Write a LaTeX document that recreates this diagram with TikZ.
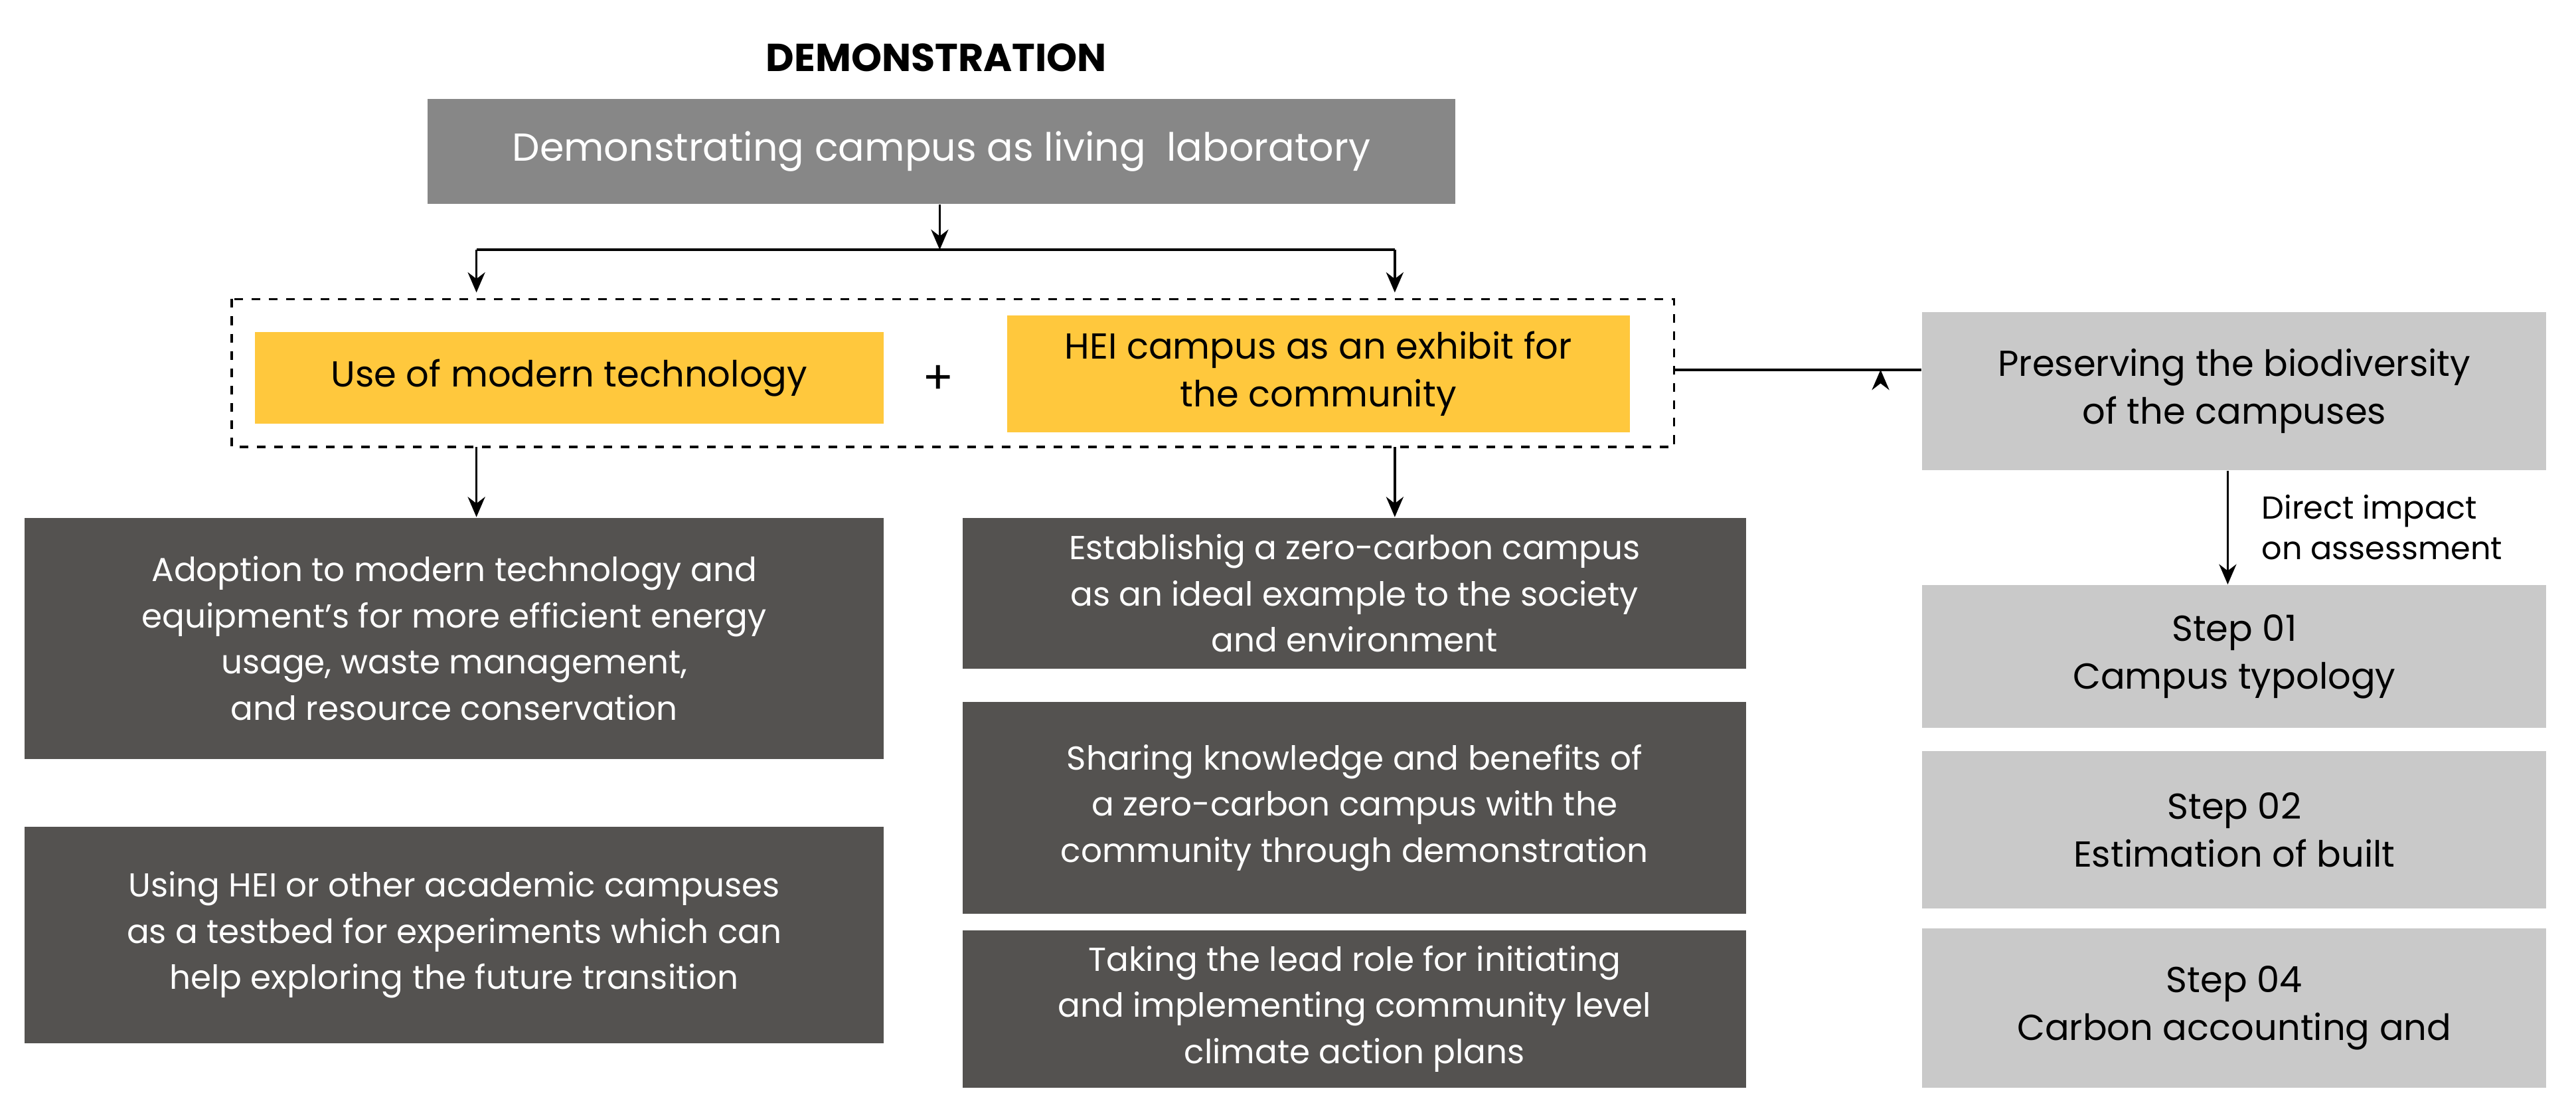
\documentclass[tikz,border=0pt]{standalone}
\usepackage{fontspec}
\setmainfont{Poppins}
\usepackage{tikz}
\usetikzlibrary{arrows.meta}
\definecolor{headgray}{HTML}{878787}
\definecolor{darkbox}{HTML}{545250}
\definecolor{lightbox}{HTML}{C9C9C9}
\definecolor{techyellow}{HTML}{FFC83D}
\tikzset{
  box/.style={inner sep=0pt,align=center,font=\fontsize{11.5}{16}\selectfont},
  dark/.style={box,fill=darkbox,text=white},
  light/.style={box,fill=lightbox,text=black,font=\fontsize{12.5}{16.5}\selectfont},
  yel/.style={box,fill=techyellow,text=black,font=\fontsize{12.5}{16.5}\selectfont},
  arr/.style={thick,-{Stealth[length=7pt,width=6pt]}}
}
\begin{document}
\begin{tikzpicture}[x=0.02cm,y=-0.02cm]
\useasboundingbox (0,0) rectangle (1568,677);

\node[font=\fontsize{13.5}{16}\selectfont\bfseries] (title) at (570,35) {DEMONSTRATION};
\node[box,fill=headgray,text=white,minimum width=12.52cm,minimum height=1.28cm,
  font=\fontsize{13.5}{17}\selectfont] (lab) at (573,92) {Demonstrating campus as living\ \ laboratory};

% split to the two themes
\coordinate (split) at (572,152);
\coordinate (leftend) at (290,152);
\coordinate (rightend) at (849,152);
\coordinate (lefttip) at (290,178);
\coordinate (righttip) at (849,178);
\draw[arr] (lab.south -| split) -- (split);
\draw[thick] (leftend) -- (rightend);
\draw[arr] (leftend) -- (lefttip);
\draw[arr] (rightend) -- (righttip);

\draw[dashed,thick] (141,182) rectangle (1019,272);
\node[yel,minimum width=7.66cm,minimum height=1.12cm] (tech) at (346.5,230) {Use of modern technology};
\node[font=\fontsize{16}{16}\selectfont] (plus) at (571,231) {+};
\node[yel,minimum width=7.58cm,minimum height=1.42cm] (exhibit) at (802.5,227.5) {HEI campus as an exhibit for\\the community};

\node[light,minimum width=7.6cm,minimum height=1.92cm] (bio) at (1360,238) {Preserving the biodiversity\\of the campuses};
\coordinate (dashright) at (1019,225);
\draw[arr] (dashright) -- (bio.west |- dashright) ++(-25,0);
\node[light,minimum width=7.6cm,minimum height=1.74cm] (s1) at (1360,399.5) {Step 01\\Campus typology};
\node[light,minimum width=7.6cm,minimum height=1.92cm] (s2) at (1360,505) {Step 02\\Estimation of built};
\node[light,minimum width=7.6cm,minimum height=1.94cm] (s4) at (1360,613.5) {Step 04\\Carbon accounting and};
\draw[arr] (bio.south -| 1356,0) -- (s1.north -| 1356,0)
  node[midway,right=8pt,align=left,font=\fontsize{11}{14}\selectfont] (impact) {Direct impact\\on assessment};

% detail boxes
\coordinate (techout) at (290,272);
\coordinate (exout) at (849,272);
\node[dark,minimum width=10.46cm,minimum height=2.94cm] (adopt) at (276.5,388.5) {Adoption to modern technology and\\equipment's for more efficient energy\\usage, waste management,\\and resource conservation};
\node[dark,minimum width=10.46cm,minimum height=2.64cm] (testbed) at (276.5,569) {Using HEI or other academic campuses\\as a testbed for experiments which can\\help exploring the future transition};
\node[dark,minimum width=9.54cm,minimum height=1.84cm] (zero) at (824.5,361) {Establishig a zero-carbon campus\\as an ideal example to the society\\and environment};
\node[dark,minimum width=9.54cm,minimum height=2.58cm] (share) at (824.5,491.5) {Sharing knowledge and benefits of\\a zero-carbon campus with the\\community through demonstration};
\node[dark,minimum width=9.54cm,minimum height=1.92cm] (lead) at (824.5,614) {Taking the lead role for initiating\\and implementing community level\\climate action plans};
\draw[arr] (techout) -- (adopt.north -| techout);
\draw[arr] (exout) -- (zero.north -| exout);
\end{tikzpicture}
\end{document}
